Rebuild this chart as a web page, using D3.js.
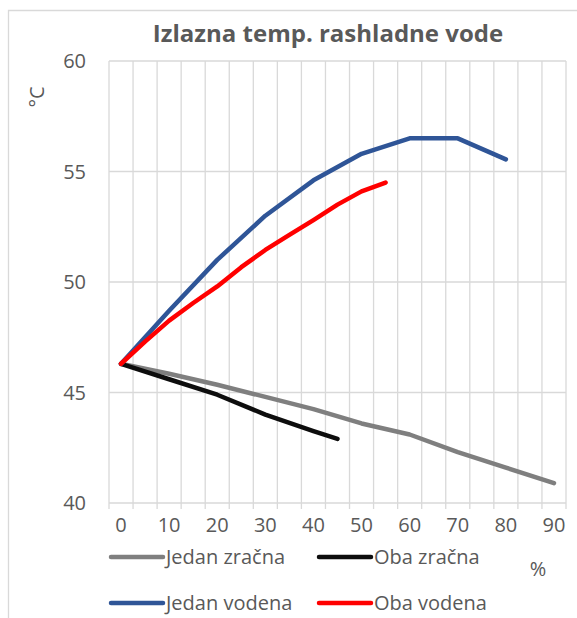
<!DOCTYPE html>
<html>
<head>
<meta charset="utf-8">
<script src="https://cdn.jsdelivr.net/npm/d3@7"></script>
<style>
  body { margin: 0; background: #fff; }
  svg text { font-family: "Open Sans", "Liberation Sans", sans-serif; fill: #595959; }
</style>
</head>
<body>
<svg class="chart"></svg>
<script>
//======
// Data
//======

var categories = [0, 5, 10, 15, 20, 25, 30, 35, 40, 45, 50, 55, 60, 65, 70, 75, 80, 85, 90];
var xTickLabels = [0, 10, 20, 30, 40, 50, 60, 70, 80, 90];
var yTickLabels = [40, 45, 50, 55, 60];

var pctJedanZracna = [0, 10, 20, 30, 40, 50, 60, 70, 80, 90];
var jedanZracna = [46.3, 45.85, 45.35, 44.8, 44.25, 43.6, 43.1, 42.3, 41.6, 40.9];

var pctObaZracna = [0, 10, 20, 30, 40, 45];
var obaZracna = [46.3, 45.6, 44.9, 44.0, 43.25, 42.9];

var pctJedanVodena = [0, 10, 20, 30, 40, 50, 60, 70, 80];
var jedanVodena = [46.3, 48.7, 51.0, 53.0, 54.6, 55.8, 56.5, 56.5, 55.55];

var pctObaVodena = [0, 5, 10, 15, 20, 25, 30, 35, 40, 45, 50, 55];
var obaVodena = [46.3, 47.3, 48.25, 49.05, 49.8, 50.67, 51.45, 52.13, 52.8, 53.5, 54.1, 54.5];

var seriesNames = ["Jedan zračna", "Oba zračna", "Jedan vodena", "Oba vodena"];
var seriesColors = ["#7f7f7f", "#0d0d0d", "#2f5597", "#ff0000"];

//=======
// Chart
//=======

var width = 577,
  height = 618,
  plotLeft = 109,
  plotRight = 566,
  plotTop = 61,
  plotBottom = 503;

var svg = d3.select(".chart")
  .attr("width", width)
  .attr("height", height);

// chart area border (only left/top visible in the crop)
svg.append("path")
  .attr("d", "M8.5," + height + "V10.5H" + width)
  .attr("fill", "none")
  .attr("stroke", "#d9d9d9")
  .attr("stroke-width", 1.3);

var band = d3.scaleBand().domain(categories).range([plotLeft, plotRight]);
var xScale = d3.scalePoint().domain(categories).range([plotLeft, plotRight]).padding(0.5);
var yScale = d3.scaleLinear().domain([40, 60]).range([plotBottom, plotTop]);

// vertical gridlines on the category boundaries
var bounds = categories.map(function(c) { return band(c); }).concat([plotRight]);

svg.append("g").selectAll("line")
  .data(bounds)
  .enter()
  .append("line")
  .attr("x1", function(d) { return d; })
  .attr("x2", function(d) { return d; })
  .attr("y1", plotTop)
  .attr("y2", plotBottom + 6)
  .attr("stroke", "#d9d9d9")
  .attr("stroke-width", 1.3);

// horizontal gridlines
svg.append("g").selectAll("line")
  .data(yTickLabels)
  .enter()
  .append("line")
  .attr("x1", plotLeft)
  .attr("x2", plotRight)
  .attr("y1", function(d) { return yScale(d); })
  .attr("y2", function(d) { return yScale(d); })
  .attr("stroke", "#d9d9d9")
  .attr("stroke-width", 1.3);

// y labels
svg.append("g").selectAll("text")
  .data(yTickLabels)
  .enter()
  .append("text")
  .attr("x", 86)
  .attr("y", function(d) { return yScale(d); })
  .attr("dy", "0.35em")
  .attr("text-anchor", "end")
  .style("font-size", "20px")
  .text(function(d) { return d; });

// x labels
svg.append("g").selectAll("text")
  .data(xTickLabels)
  .enter()
  .append("text")
  .attr("x", function(d) { return xScale(d); })
  .attr("y", 532)
  .attr("text-anchor", "middle")
  .style("font-size", "20px")
  .text(function(d) { return d; });

// title
svg.append("text")
  .attr("x", 328)
  .attr("y", 42)
  .attr("text-anchor", "middle")
  .style("font-size", "24px")
  .style("font-weight", "bold")
  .text("Izlazna temp. rashladne vode");

// axis titles
svg.append("text")
  .attr("transform", "translate(44,97) rotate(-90)")
  .attr("text-anchor", "middle")
  .style("font-size", "20px")
  .text("°C");

svg.append("text")
  .attr("x", 538)
  .attr("y", 576)
  .attr("text-anchor", "middle")
  .style("font-size", "20px")
  .text("%");

// lines
var lineGen = d3.line()
  .x(function(d) { return xScale(d[0]); })
  .y(function(d) { return yScale(d[1]); });

var seriesData = [
  d3.zip(pctJedanZracna, jedanZracna),
  d3.zip(pctObaZracna, obaZracna),
  d3.zip(pctJedanVodena, jedanVodena),
  d3.zip(pctObaVodena, obaVodena)
];

svg.append("g").selectAll("path")
  .data(seriesData)
  .enter()
  .append("path")
  .attr("d", lineGen)
  .attr("fill", "none")
  .attr("stroke", function(d, i) { return seriesColors[i]; })
  .attr("stroke-width", 4.5)
  .attr("stroke-linecap", "round")
  .attr("stroke-linejoin", "round");

// legend, two rows of two
var legendPos = [[111, 557], [319, 557], [111, 603], [319, 603]];

var item = svg.append("g").selectAll("g")
  .data(seriesNames)
  .enter()
  .append("g")
  .attr("transform", function(d, i) { return "translate(" + legendPos[i][0] + "," + legendPos[i][1] + ")"; });

item.append("line")
  .attr("x1", 0)
  .attr("x2", 52)
  .attr("stroke", function(d, i) { return seriesColors[i]; })
  .attr("stroke-width", 4.5)
  .attr("stroke-linecap", "round");

item.append("text")
  .attr("x", 55)
  .attr("dy", "0.35em")
  .style("font-size", "20px")
  .text(function(d) { return d; });
</script>
</body>
</html>
